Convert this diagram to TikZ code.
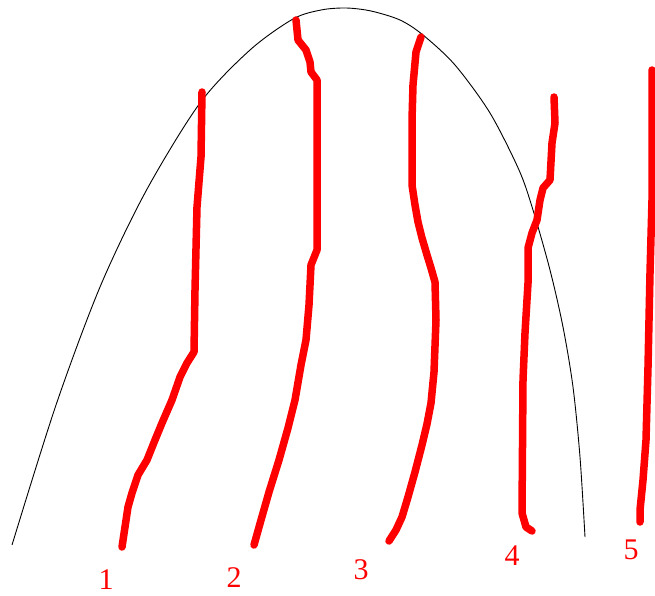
\documentclass[tikz,border=0pt]{standalone}
\usepackage{fontspec}
\setmainfont{Liberation Serif}
\begin{document}
\begin{tikzpicture}[x=1pt,y=-1pt,
  redstroke/.style={draw=red, line width=7.5pt, line join=round, line cap=round},
  arcstroke/.style={draw=black, line width=0.9pt},
  numlabel/.style={text=red, font=\fontsize{30}{30}\selectfont, inner sep=0pt}]
\useasboundingbox (0,0) rectangle (655,595);
% black curve
\draw[arcstroke] plot[smooth, tension=0.5] coordinates {
  (12,545) (56,405) (100,287) (146,191) (200,103) (250,50) (293,19) (321,10)
  (346,8) (371,11) (400,20) (423,35) (455,65) (490,113) (519,170) (533,210)
  (550,270) (563,327) (573,387) (580,457) (585,537)};
% red lines
\draw[redstroke] plot coordinates {
  (202,92) (201,157) (197,207) (195,290) (194,352) (187,363) (180,377)
  (172,400) (162,423) (155,440) (147,460) (138,475) (132,493) (128,507)
  (125,527) (122,547)};
\draw[redstroke] plot coordinates {
  (296,20) (298,40) (306,50) (310,62) (311,72) (317,80) (317,250) (311,265)
  (309,305) (306,340) (301,365) (295,400) (288,428) (279,460) (269,492)
  (261,520) (254,545)};
\draw[redstroke] plot coordinates {
  (421,37) (416,52) (413,85) (412,120) (412,185) (415,205) (418,222)
  (422,238) (427,255) (431,268) (435,282) (436,320) (434,372) (431,403)
  (427,424) (422,445) (415,472) (408,497) (402,517) (396,530) (389,541)};
\draw[redstroke] plot coordinates {
  (554,97) (555,123) (552,143) (550,180) (543,188) (540,200) (537,220)
  (532,233) (528,248) (528,283) (525,333) (523,380) (522,513) (526,527)
  (532,531)};
\draw[redstroke] plot coordinates {
  (652,70) (652,200) (650,273) (648,367) (646,440) (643,480) (640,510)
  (640,522)};
% labels
\node[numlabel] (n1) at (106,580) {1};
\node[numlabel] (n2) at (234,578) {2};
\node[numlabel] (n3) at (361,570) {3};
\node[numlabel] (n4) at (512,556) {4};
\node[numlabel] (n5) at (631,550) {5};
\end{tikzpicture}
\end{document}
